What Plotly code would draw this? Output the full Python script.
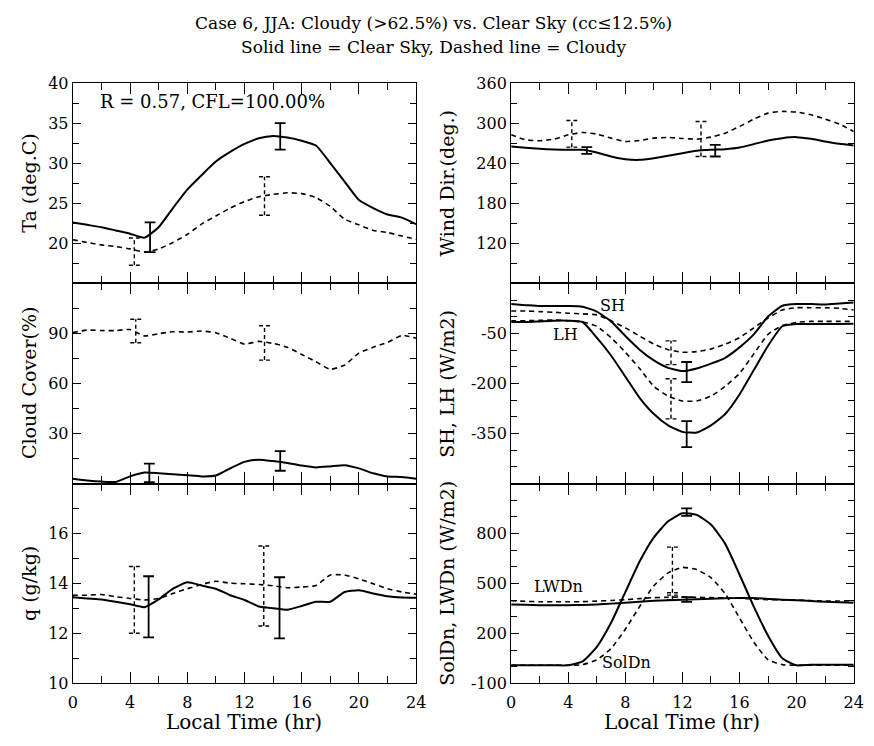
import plotly.graph_objects as go

HOURS = list(range(25))

TA_CLEAR = [22.6, 22.3, 22.0, 21.6, 21.2, 20.7, 22.0, 24.4, 26.7, 28.5, 30.2, 31.4, 32.4,
            33.1, 33.4, 33.2, 32.8, 32.2, 30.0, 27.7, 25.4, 24.4, 23.6, 23.2, 22.4]
TA_CLOUDY = [20.45, 20.1, 19.8, 19.6, 19.3, 18.9, 19.3, 20.1, 21.1, 22.4, 23.4, 24.4, 25.2,
             25.8, 26.1, 26.3, 26.2, 25.7, 24.6, 23.0, 22.3, 21.6, 21.35, 20.9, 20.5]
TA_ERR_CLEAR = dict(t=[5.4, 14.5], lo=[18.9, 31.7], hi=[22.6, 35.0])
TA_ERR_CLOUDY = dict(t=[4.3, 13.4], lo=[17.25, 23.5], hi=[20.65, 28.3])

WD_CLEAR = [265, 263, 261.5, 260.5, 260, 260, 256, 250, 246, 245, 247.5, 251, 255,
            258.5, 260, 261, 263.5, 268.5, 274, 277.5, 279, 276.5, 272.5, 269, 266.5]
WD_CLOUDY = [282.5, 275, 273.5, 276, 282.5, 286, 283.5, 277.5, 272.5, 274, 277.5, 278.5, 277,
             276, 279, 285, 295, 306, 315, 317.5, 316.5, 312.5, 306, 298.5, 287.5]
WD_ERR_CLEAR = dict(t=[5.3, 14.3], lo=[254, 250], hi=[264, 267.5])
WD_ERR_CLOUDY = dict(t=[4.25, 13.3], lo=[264, 250], hi=[304, 302.5])

CC_CLEAR = [2.9, 1.9, 1.2, 1.0, 4.3, 6.6, 6.2, 5.6, 5.0, 4.3, 4.8, 9.1, 13.0,
            14.3, 13.5, 12.4, 10.8, 9.7, 10.3, 11.0, 9.1, 6.2, 4.3, 3.9, 2.9]
CC_CLOUDY = [90.5, 92, 91.7, 91.7, 92.3, 88.5, 89.8, 91, 90.8, 91.4, 90.4, 87.1, 83.6,
             85.2, 84, 81.7, 77.4, 73, 68.5, 71, 78.2, 81.7, 84.6, 88.8, 87.1]
CC_ERR_CLEAR = dict(t=[5.35, 14.5], lo=[0.8, 7.7], hi=[12.0, 19.4])
CC_ERR_CLOUDY = dict(t=[4.4, 13.4], lo=[84.4, 74], hi=[98.5, 94.6])

Q_CLEAR = [13.45, 13.4, 13.36, 13.27, 13.17, 13.05, 13.36, 13.79, 14.05, 13.92, 13.79, 13.53, 13.34,
           13.08, 13.01, 12.95, 13.1, 13.27, 13.27, 13.66, 13.73, 13.6, 13.49, 13.44, 13.43]
Q_CLOUDY = [13.53, 13.53, 13.56, 13.47, 13.4, 13.34, 13.4, 13.6, 13.79, 13.96, 14.09, 14.01, 13.99,
            13.96, 13.91, 13.83, 13.86, 13.92, 14.34, 14.34, 14.18, 13.99, 13.79, 13.66, 13.57]
Q_ERR_CLEAR = dict(t=[5.3, 14.45], lo=[11.84, 11.8], hi=[14.29, 14.25])
Q_ERR_CLOUDY = dict(t=[4.3, 13.35], lo=[12.01, 12.3], hi=[14.68, 15.5])

SH_CLEAR = [37.7, 34.7, 31.8, 31.8, 31.8, 29.9, 15.3, -14, -57.8, -98.7, -130.8, -153.2, -163,
            -155.2, -140.6, -123, -91.9, -52.9, 0.6, 32.8, 37.7, 37.7, 36.7, 39.6, 42.5]
SH_CLOUDY = [17.2, 17.2, 15.3, 13.3, 10.4, 8.4, 5.5, -12, -33.4, -57.8, -82.1, -98.7, -106.5,
             -104.5, -96.8, -82.1, -62.7, -33.4, -4.2, 20.1, 27, 27, 27, 25, 20.1]
LH_CLEAR = [-15.9, -15.9, -14, -12, -12, -15.9, -62.7, -116.2, -179.5, -242.9, -291.6, -325.6, -345.1,
            -347, -325.6, -291.6, -233.1, -160, -87, -28.6, -21.8, -21.8, -21.8, -21.8, -20.8]
LH_CLOUDY = [-12, -12, -11, -10, -12, -15.9, -28.6, -62.7, -106.5, -155.2, -208.8, -238, -252.6,
             -252.6, -238, -208.8, -169.8, -111.4, -52.9, -26.6, -16.9, -14, -14, -14, -14]
FLUX_ERR_CLEAR = dict(t=[12.3, 12.3], lo=[-196, -391], hi=[-135.7, -313])
FLUX_ERR_CLOUDY = dict(t=[11.2, 11.2], lo=[-143.5, -306], hi=[-72.4, -186])

SOL_CLEAR = [8.6, 8.6, 8.6, 8.6, 8.6, 31.8, 119, 264, 447.8, 631.7, 776.8, 873.5, 921.9,
             912, 854, 738, 554, 360.8, 186.6, 51.2, 8.6, 12.5, 12.5, 12.5, 12.5]
SOL_CLOUDY = [8.6, 8.6, 8.6, 8.6, 8.6, 12.5, 41.5, 109.3, 225.3, 360.8, 486.5, 563.9, 596.8,
              583.3, 534.9, 438.2, 293, 147.9, 41.5, 12.5, 8.6, 8.6, 8.6, 8.6, 8.6]
LW_CLEAR = [374, 372, 370, 370, 370, 371, 374, 379, 384, 390, 396, 400, 403,
            406, 409, 411, 413, 413, 407, 403, 400, 395, 390, 387, 384]
LW_CLOUDY = [396, 393, 390, 390, 390, 391, 394, 398, 403, 409, 415, 417, 419,
             417, 415, 413, 411, 407, 403, 401, 400, 397, 394, 395, 396]
RAD_ERR_CLEAR = dict(t=[12.3, 12.3], lo=[906, 390], hi=[951, 418])
RAD_ERR_CLOUDY = dict(t=[11.3, 11.3], lo=[444, 403], hi=[718.7, 430])

X_TICKS = [0, 4, 8, 12, 16, 20, 24]

FONT = "DejaVu Serif"
DASH = "5px,4px"

fig = go.Figure()


def add_line(y, xa, ya, dashed):
    fig.add_trace(go.Scatter(
        x=HOURS, y=y, xaxis=xa, yaxis=ya, mode="lines",
        line=dict(color="black", width=1.6 if dashed else 2.0,
                  dash=DASH if dashed else "solid", shape="spline", smoothing=0.5),
        showlegend=False, hoverinfo="skip"))


def add_err(err, xa, ya, dashed, capw=0.38):
    xs, ys = [], []
    for t, lo, hi in zip(err["t"], err["lo"], err["hi"]):
        xs += [t, t, None, t - capw, t + capw, None, t - capw, t + capw, None]
        ys += [lo, hi, None, lo, lo, None, hi, hi, None]
    fig.add_trace(go.Scatter(
        x=xs, y=ys, xaxis=xa, yaxis=ya, mode="lines",
        line=dict(color="black", width=1.4 if dashed else 1.8,
                  dash="4px,3px" if dashed else "solid"),
        showlegend=False, hoverinfo="skip"))


# panel 1: Ta
add_line(TA_CLEAR, "x", "y", False)
add_line(TA_CLOUDY, "x", "y", True)
add_err(TA_ERR_CLEAR, "x", "y", False)
add_err(TA_ERR_CLOUDY, "x", "y", True)
# panel 2: wind dir
add_line(WD_CLEAR, "x2", "y2", False)
add_line(WD_CLOUDY, "x2", "y2", True)
add_err(WD_ERR_CLEAR, "x2", "y2", False)
add_err(WD_ERR_CLOUDY, "x2", "y2", True)
# panel 3: cloud cover
add_line(CC_CLEAR, "x3", "y3", False)
add_line(CC_CLOUDY, "x3", "y3", True)
add_err(CC_ERR_CLEAR, "x3", "y3", False)
add_err(CC_ERR_CLOUDY, "x3", "y3", True)
# panel 4: SH, LH
add_line(SH_CLEAR, "x4", "y4", False)
add_line(SH_CLOUDY, "x4", "y4", True)
add_line(LH_CLEAR, "x4", "y4", False)
add_line(LH_CLOUDY, "x4", "y4", True)
add_err(FLUX_ERR_CLEAR, "x4", "y4", False)
add_err(FLUX_ERR_CLOUDY, "x4", "y4", True)
# panel 5: q
add_line(Q_CLEAR, "x5", "y5", False)
add_line(Q_CLOUDY, "x5", "y5", True)
add_err(Q_ERR_CLEAR, "x5", "y5", False)
add_err(Q_ERR_CLOUDY, "x5", "y5", True)
# panel 6: radiation
add_line(SOL_CLEAR, "x6", "y6", False)
add_line(SOL_CLOUDY, "x6", "y6", True)
add_line(LW_CLEAR, "x6", "y6", False)
add_line(LW_CLOUDY, "x6", "y6", True)
add_err(RAD_ERR_CLEAR, "x6", "y6", False)
add_err(RAD_ERR_CLOUDY, "x6", "y6", True)

W, H = 874, 746
LEFT = [69 / W, 418.3 / W]
RIGHT = [515 / W, 863.5 / W]
ROWS = [[1 - 281.5 / H, 1 - 76 / H], [1 - 487 / H, 1 - 281.5 / H], [1 - 692 / H, 1 - 487 / H]]

tickfont = dict(family=FONT, size=16, color="black")


def xaxis(dom, anchor, labels):
    return dict(domain=dom, anchor=anchor, range=[0, 24], tickvals=X_TICKS,
                ticktext=[str(v) for v in X_TICKS], showticklabels=labels,
                ticks="inside", ticklen=11, tickwidth=1, tickcolor="black",
                minor=dict(dtick=2, tick0=0, ticks="inside", ticklen=7, tickcolor="black"),
                showline=True, linecolor="black", linewidth=1.2, mirror="allticks",
                showgrid=False, zeroline=False, tickfont=tickfont, ticklabelstandoff=4)


def yaxis(dom, anchor, rng, vals, minor):
    return dict(domain=dom, anchor=anchor, range=rng, tickvals=vals,
                ticktext=[str(v) for v in vals],
                ticks="inside", ticklen=8, tickwidth=1, tickcolor="black",
                minor=dict(dtick=minor, tick0=0, ticks="inside", ticklen=6, tickcolor="black"),
                showline=True, linecolor="black", linewidth=1.2, mirror="allticks",
                showgrid=False, zeroline=False, tickfont=tickfont)


fig.update_layout(
    width=W, height=H, margin=dict(l=0, r=0, t=0, b=0),
    paper_bgcolor="white", plot_bgcolor="white", showlegend=False,
    xaxis=xaxis(LEFT, "y", False), yaxis=yaxis(ROWS[0], "x", [15, 40], [20, 25, 30, 35, 40], 2.5),
    xaxis2=xaxis(RIGHT, "y2", False), yaxis2=yaxis(ROWS[0], "x2", [60, 360], [120, 180, 240, 300, 360], 30),
    xaxis3=xaxis(LEFT, "y3", False), yaxis3=yaxis(ROWS[1], "x3", [0, 120], [30, 60, 90], 15),
    xaxis4=xaxis(RIGHT, "y4", False), yaxis4=yaxis(ROWS[1], "x4", [-500, 100], [-350, -200, -50], 50),
    xaxis5=xaxis(LEFT, "y5", True), yaxis5=yaxis(ROWS[2], "x5", [10, 18], [10, 12, 14, 16], 1),
    xaxis6=xaxis(RIGHT, "y6", True), yaxis6=yaxis(ROWS[2], "x6", [-100, 1100], [-100, 200, 500, 800], 100),
)

ann_font = dict(family=FONT, size=16, color="black")


def side_title(text, xpx, row):
    ymid = (ROWS[row][0] + ROWS[row][1]) / 2
    fig.add_annotation(text=text, xref="paper", yref="paper", x=xpx / W, y=ymid,
                       textangle=-90, showarrow=False, font=dict(family=FONT, size=19, color="black"),
                       xanchor="center", yanchor="middle")


side_title("Ta (deg.C)", 25, 0)
side_title("Cloud Cover(%)", 25, 1)
side_title("q (g/kg)", 25, 2)
side_title("Wind Dir.(deg.)", 450, 0)
side_title("SH, LH (W/m2)", 450, 1)
side_title("SolDn, LWDn (W/m2)", 450, 2)

for xc in [(LEFT[0] + LEFT[1]) / 2, (RIGHT[0] + RIGHT[1]) / 2]:
    fig.add_annotation(text="Local Time (hr)", xref="paper", yref="paper", x=xc, y=1 - 732 / H,
                       showarrow=False, font=dict(family=FONT, size=20, color="black"),
                       xanchor="center", yanchor="middle")

fig.add_annotation(text="Case 6, JJA: Cloudy (>62.5%) vs. Clear Sky (cc\u226412.5%)",
                   xref="paper", yref="paper", x=436 / W, y=1 - 14 / H, showarrow=False,
                   font=dict(family=FONT, size=17, color="black"), xanchor="center", yanchor="middle")
fig.add_annotation(text="Solid line = Clear Sky, Dashed line = Cloudy",
                   xref="paper", yref="paper", x=436 / W, y=1 - 39 / H, showarrow=False,
                   font=dict(family=FONT, size=17, color="black"), xanchor="center", yanchor="middle")

fig.add_annotation(text="R = 0.57, CFL=100.00%", xref="x", yref="y", x=1.75, y=37.7,
                   showarrow=False, font=dict(family=FONT, size=18, color="black"),
                   xanchor="left", yanchor="middle")
fig.add_annotation(text="SH", xref="x4", yref="y4", x=7.1, y=35, showarrow=False,
                   font=ann_font, xanchor="center", yanchor="middle")
fig.add_annotation(text="LH", xref="x4", yref="y4", x=3.8, y=-53, showarrow=False,
                   font=ann_font, xanchor="center", yanchor="middle")
fig.add_annotation(text="LWDn", xref="x6", yref="y6", x=3.3, y=481, showarrow=False,
                   font=ann_font, xanchor="center", yanchor="middle")
fig.add_annotation(text="SolDn", xref="x6", yref="y6", x=8.1, y=28, showarrow=False,
                   font=ann_font, xanchor="center", yanchor="middle")

fig.write_html("out.html")
